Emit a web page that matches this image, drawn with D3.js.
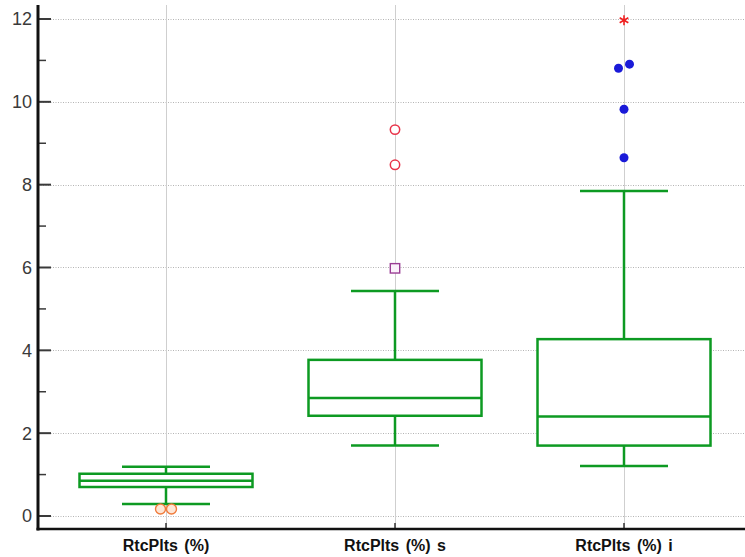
<!DOCTYPE html>
<html><head><meta charset="utf-8">
<script src="https://cdn.jsdelivr.net/npm/d3@7/dist/d3.min.js"></script>
<style>body{margin:0;background:#fff}svg{display:block}</style>
</head><body>
<svg id="c" width="745" height="557"></svg>
<script>
const categories = ["RtcPlts (%)", "RtcPlts (%) s", "RtcPlts (%) i"];
const whiskerLow  = [0.29, 1.70, 1.21];
const q1          = [0.70, 2.42, 1.70];
const median      = [0.85, 2.85, 2.40];
const q3          = [1.02, 3.77, 4.27];
const whiskerHigh = [1.19, 5.43, 7.85];
const yTicks = [0, 2, 4, 6, 8, 10, 12];
const yMinorTicks = [1, 3, 5, 7, 9, 11];
// outliers: category index, value, kind
const outliers = [
  {cat: 0, value: 0.17, kind: "orangeCircle"},
  {cat: 0, value: 0.17, kind: "orangeCircle"},
  {cat: 1, value: 5.98, kind: "square"},
  {cat: 1, value: 8.48, kind: "redCircle"},
  {cat: 1, value: 9.33, kind: "redCircle"},
  {cat: 2, value: 8.65, kind: "blueDot"},
  {cat: 2, value: 9.82, kind: "blueDot"},
  {cat: 2, value: 10.81, kind: "blueDot"},
  {cat: 2, value: 10.91, kind: "blueDot"},
  {cat: 2, value: 11.97, kind: "star"}
];

(function(){
const svg = d3.select("#c");
const mLeft = 38, mBottom = 529, mTop = 5, mRight = 745;

const x = d3.scalePoint().domain(categories).range([166, 624]);
const y = d3.scaleLinear().domain([-0.314, 12.338]).range([mBottom, mTop]);
const boxW = 173, capW = 88;
const green = "#0d9a22";

// gridlines
svg.append("g").selectAll("line").data(yTicks).join("line")
  .attr("x1", mLeft).attr("x2", mRight)
  .attr("y1", d => Math.round(y(d)) + 0.5).attr("y2", d => Math.round(y(d)) + 0.5)
  .attr("stroke", "#b4b4b4").attr("stroke-width", 1).attr("stroke-dasharray", "1,1.5");
svg.append("g").selectAll("line").data(categories).join("line")
  .attr("x1", d => Math.round(x(d)) + 0.5).attr("x2", d => Math.round(x(d)) + 0.5)
  .attr("y1", mTop).attr("y2", mBottom)
  .attr("stroke", "#cfcfcf").attr("stroke-width", 1);

// boxes
const gb = svg.append("g").attr("stroke", green).attr("stroke-width", 2.5).attr("fill", "none");
categories.forEach((c, i) => {
  const cx = x(c);
  gb.append("line").attr("x1", cx).attr("x2", cx).attr("y1", y(q3[i])).attr("y2", y(whiskerHigh[i]));
  gb.append("line").attr("x1", cx).attr("x2", cx).attr("y1", y(q1[i])).attr("y2", y(whiskerLow[i]));
  gb.append("line").attr("x1", cx - capW/2).attr("x2", cx + capW/2).attr("y1", y(whiskerHigh[i])).attr("y2", y(whiskerHigh[i]));
  gb.append("line").attr("x1", cx - capW/2).attr("x2", cx + capW/2).attr("y1", y(whiskerLow[i])).attr("y2", y(whiskerLow[i]));
  gb.append("rect").attr("x", cx - boxW/2).attr("width", boxW)
    .attr("y", y(q3[i])).attr("height", y(q1[i]) - y(q3[i])).attr("fill", "#fff");
  gb.append("line").attr("x1", cx - boxW/2).attr("x2", cx + boxW/2).attr("y1", y(median[i])).attr("y2", y(median[i]));
});

// outliers with simple dodge for overlapping values
const spacing = 11;
const placed = [];
categories.forEach((c, i) => {
  const pts = outliers.filter(o => o.cat === i).sort((a, b) => a.value - b.value);
  const groups = [];
  pts.forEach(p => {
    const g = groups[groups.length - 1];
    if (g && Math.abs(y(p.value) - y(g[g.length-1].value)) < 8) g.push(p); else groups.push([p]);
  });
  groups.forEach(g => g.forEach((p, k) => {
    placed.push(Object.assign({}, p, {px: x(c) + (k - (g.length - 1) / 2) * spacing, py: y(p.value)}));
  }));
});
const go = svg.append("g");
placed.forEach(p => {
  if (p.kind === "orangeCircle") {
    go.append("circle").attr("cx", p.px).attr("cy", p.py).attr("r", 5)
      .attr("fill", "#fde6d6").attr("stroke", "#f07a3a").attr("stroke-width", 1.4);
  } else if (p.kind === "redCircle") {
    go.append("circle").attr("cx", p.px).attr("cy", p.py).attr("r", 4.7)
      .attr("fill", "#fff").attr("stroke", "#e8344a").attr("stroke-width", 1.5);
  } else if (p.kind === "square") {
    go.append("rect").attr("x", p.px - 4.7).attr("y", p.py - 4.7).attr("width", 9.4).attr("height", 9.4)
      .attr("fill", "#fbf2fb").attr("stroke", "#9a3d94").attr("stroke-width", 1.4);
  } else if (p.kind === "blueDot") {
    go.append("circle").attr("cx", p.px).attr("cy", p.py).attr("r", 4.5).attr("fill", "#1a1ad8");
  } else if (p.kind === "star") {
    go.append("path").attr("transform", `translate(${p.px},${p.py})`)
      .attr("d", d3.symbol(d3.symbolAsterisk, 70)()).attr("stroke", "#f02020").attr("stroke-width", 1.6).attr("fill", "none");
  }
});

// y ticks
svg.append("g").selectAll("line").data(yTicks).join("line")
  .attr("x1", mLeft).attr("x2", mLeft + 13)
  .attr("y1", d => y(d)).attr("y2", d => y(d))
  .attr("stroke", "#3a3a3a").attr("stroke-width", 2);
svg.append("g").selectAll("line").data(yMinorTicks).join("line")
  .attr("x1", mLeft).attr("x2", mLeft + 8)
  .attr("y1", d => y(d)).attr("y2", d => y(d))
  .attr("stroke", "#3a3a3a").attr("stroke-width", 1.5);
svg.append("g").selectAll("text").data(yTicks).join("text")
  .attr("x", 32).attr("y", d => y(d)).attr("dy", "0.36em")
  .attr("text-anchor", "end").attr("font-family", "Liberation Sans, Arial, sans-serif")
  .attr("font-size", 18).attr("fill", "#3a3a3a").text(d => d);

// x ticks
svg.append("g").selectAll("line").data(categories).join("line")
  .attr("x1", d => x(d)).attr("x2", d => x(d)).attr("y1", mBottom - 6).attr("y2", mBottom)
  .attr("stroke", "#333").attr("stroke-width", 1.5);
svg.append("g").selectAll("text").data(categories).join("text")
  .attr("x", d => x(d)).attr("y", 551)
  .attr("text-anchor", "middle").attr("font-family", "Liberation Sans, Arial, sans-serif")
  .attr("font-size", 16).attr("font-weight", "bold").attr("word-spacing", 2).attr("fill", "#111").text(d => d);

// axes lines
svg.append("line").attr("x1", mLeft).attr("x2", mLeft).attr("y1", mTop).attr("y2", mBottom + 1.5)
  .attr("stroke", "#111").attr("stroke-width", 3);
svg.append("line").attr("x1", mLeft - 1.5).attr("x2", mRight).attr("y1", mBottom).attr("y2", mBottom)
  .attr("stroke", "#111").attr("stroke-width", 2.5);
})();
</script>
</body></html>
